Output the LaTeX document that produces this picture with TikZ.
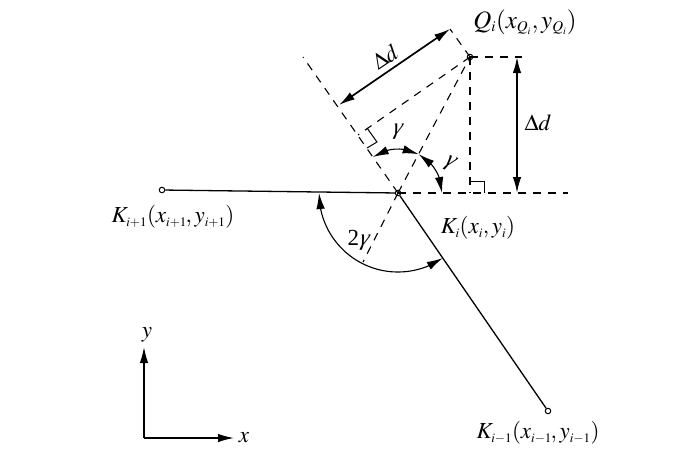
\documentclass[tikz,border=0pt]{standalone}
\usepackage{mathptmx}
\usepackage{amsmath}
\usepackage[no-math]{fontspec}
\setmainfont{Liberation Serif}
\newfontface\gamfont[FakeSlant=0.2]{Liberation Serif Italic}
\usetikzlibrary{arrows.meta,bending}
\usetikzlibrary{calc}
\DeclareMathSizes{23}{23}{13}{10}
\DeclareMathSizes{25}{25}{15}{10}
\begin{document}
\begin{tikzpicture}[x=1pt,y=1pt,>={Latex[length=16pt,width=8.5pt]},line width=1.3pt]
\tikzstyle{every node}=[font=\fontsize{23}{27}\selectfont,inner sep=0pt]
\tikzstyle{pt}=[circle,draw,line width=1pt,minimum size=5.5pt,inner sep=0pt]
\tikzstyle{dashline}=[dash pattern=on 8pt off 7pt,line width=1.1pt]
\tikzstyle{dim}=[<->,line width=1.7pt]
\tikzstyle{ang}=[<->,line width=1.1pt]
\useasboundingbox (0,0) rectangle (700,-451);
\path node[pt] (kc) at (398,-193) {};
\path node[pt] (q) at (470,-57) {};
\path node[pt] (kp) at (162,-190) {};
\path node[pt] (km) at (548,-411) {};
\coordinate (lt) at (303,-57);
\coordinate (lb) at (363,-262);
\coordinate (foot) at (358,-135);
\coordinate (top) at (450,-29);
\coordinate (dl) at (339,-105);
\coordinate (hr) at (568,-193);
\coordinate (qr) at (522,-57);
\coordinate (qb) at (470,-193);
\coordinate (dt) at (517,-57);
\coordinate (db) at (517,-193);
\coordinate (o) at (144,-438);
\coordinate (ay) at (144,-347);
\coordinate (ax) at (234,-438);
\coordinate (g1) at ($(kc)+(125:44)$);
\coordinate (g2) at ($(kc)+(62:44)$);
\coordinate (g3) at ($(kc)+(180:79)$);

% solid segments
\draw (kp) -- (kc);
\draw (kc) -- (km);
% dashed construction lines
\draw[dashline] (kc.center) -- (lt);
\draw[dashline] (kc.center) -- (lb);
\draw[dashline] (kc.center) -- (q.center);
\draw[dashline] (kc.center) -- (hr);
\draw[dashline] (q.center) -- (qr);
\draw[dashline] (q.center) -- (qb);
\draw[dashline] (q.center) -- (foot);
\draw[dashline] (q.center) -- (top);
% right angle marks
\draw[line width=1pt] (367,-148) -- (377,-142) -- (367,-128);
\draw[line width=1pt] (470,-181) -- (484,-181) -- (484,-193);
% dimensions and angles
\draw[dim] (dl) -- (top);
\draw[dim] (dt) -- (db);
\draw[ang] (g1) arc[start angle=125,end angle=62,radius=44];
\draw[ang] (g2) arc[start angle=62,end angle=0,radius=44];
\draw[ang] (g3) arc[start angle=180,end angle=304.5,radius=79];
% axes
\draw[->,line width=1.5pt] (o) -- (ay);
\draw[->,line width=1.5pt] (o) -- (ax);
% labels
\path node[font=\fontsize{25}{29}\selectfont] (ql) at (525,-22) {$Q_i(x_{Q_i},y_{Q_i})$};
\path node[rotate=34] (dm) at (385,-57) {$\Delta d$};
\path node (dr) at (538,-123) {$\Delta d$};
\path node (ga) at (397,-132) {\gamfont γ};
\path node[rotate=-20] (gb) at (449,-163) {\gamfont γ};
\path node (gc) at (358,-240) {2{\gamfont γ}};
\path node (kpl) at (173,-217) {$K_{i+1}(x_{i+1}\mkern-1mu,y_{i+1})$};
\path node (kcl) at (478,-228) {$K_i(x_i,y_i)$};
\path node (kml) at (538,-433) {$K_{i-1}(x_{i-1}\mkern-1mu,y_{i-1})$};
\path node (yl) at (147,-335) {$y$};
\path node (xl) at (244,-438) {$x$};
\end{tikzpicture}
\end{document}
